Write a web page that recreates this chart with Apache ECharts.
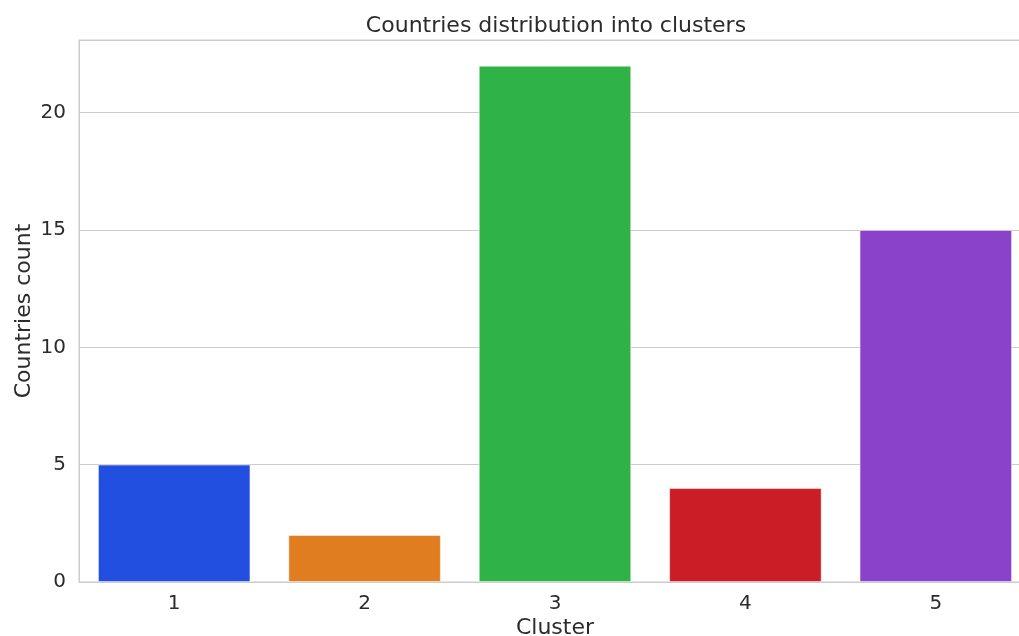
<!DOCTYPE html>
<html>
<head>
<meta charset="utf-8">
<script src="https://cdn.jsdelivr.net/npm/echarts@6/dist/echarts.min.js"></script>
<style>html,body{margin:0;padding:0;background:#fff}#c{width:1019px;height:636px}</style>
</head>
<body>
<div id="c"></div>
<script>
const categories = ['1', '2', '3', '4', '5'];
const counts = [5, 2, 22, 4, 15];
const colors = ['#224fdf', '#df7d20', '#30b346', '#cb1d25', '#8a42cb'];
const yTicks = [0, 5, 10, 15, 20];

const FONT = '"DejaVu Sans", sans-serif';
const chart = echarts.init(document.getElementById('c'), null, {renderer: 'canvas'});
chart.setOption({
  animation: false,
  backgroundColor: '#ffffff',
  title: {
    text: 'Countries distribution into clusters',
    left: 551, top: 10, textAlign: 'center',
    textStyle: {fontFamily: FONT, fontSize: 22, fontWeight: 'normal', color: '#2b2b2b'}
  },
  grid: {left: 79, top: 40, width: 952, height: 542, show: true, borderColor: '#cccccc', borderWidth: 1,
    containLabel: false, outerBoundsMode: 'none'},
  xAxis: {
    type: 'category', data: categories,
    name: 'Cluster', nameLocation: 'middle', nameGap: 35, nameMoveOverlap: false,
    nameTextStyle: {fontFamily: FONT, fontSize: 22, color: '#2b2b2b'},
    axisLine: {lineStyle: {color: '#cccccc'}},
    axisTick: {show: false},
    axisLabel: {fontFamily: FONT, fontSize: 20, color: '#2b2b2b', margin: 12}
  },
  yAxis: {
    type: 'value', min: 0, max: 23.1, interval: 5,
    name: 'Countries count', nameLocation: 'middle', nameGap: 44, nameMoveOverlap: false,
    nameTextStyle: {fontFamily: FONT, fontSize: 22, color: '#2b2b2b'},
    axisLine: {show: true, lineStyle: {color: '#cccccc'}},
    axisTick: {show: false},
    splitLine: {lineStyle: {color: '#cccccc', width: 1}},
    axisLabel: {fontFamily: FONT, fontSize: 20, color: '#2b2b2b', margin: 13,
      formatter: v => yTicks.includes(v) ? String(v) : ''}
  },
  series: [{
    type: 'bar',
    data: counts.map((v, i) => ({value: v, itemStyle: {color: colors[i]}})),
    barWidth: '80%',
    itemStyle: {borderColor: 'rgba(255,255,255,0.6)', borderWidth: 0.8}
  }]
});
</script>
</body>
</html>
